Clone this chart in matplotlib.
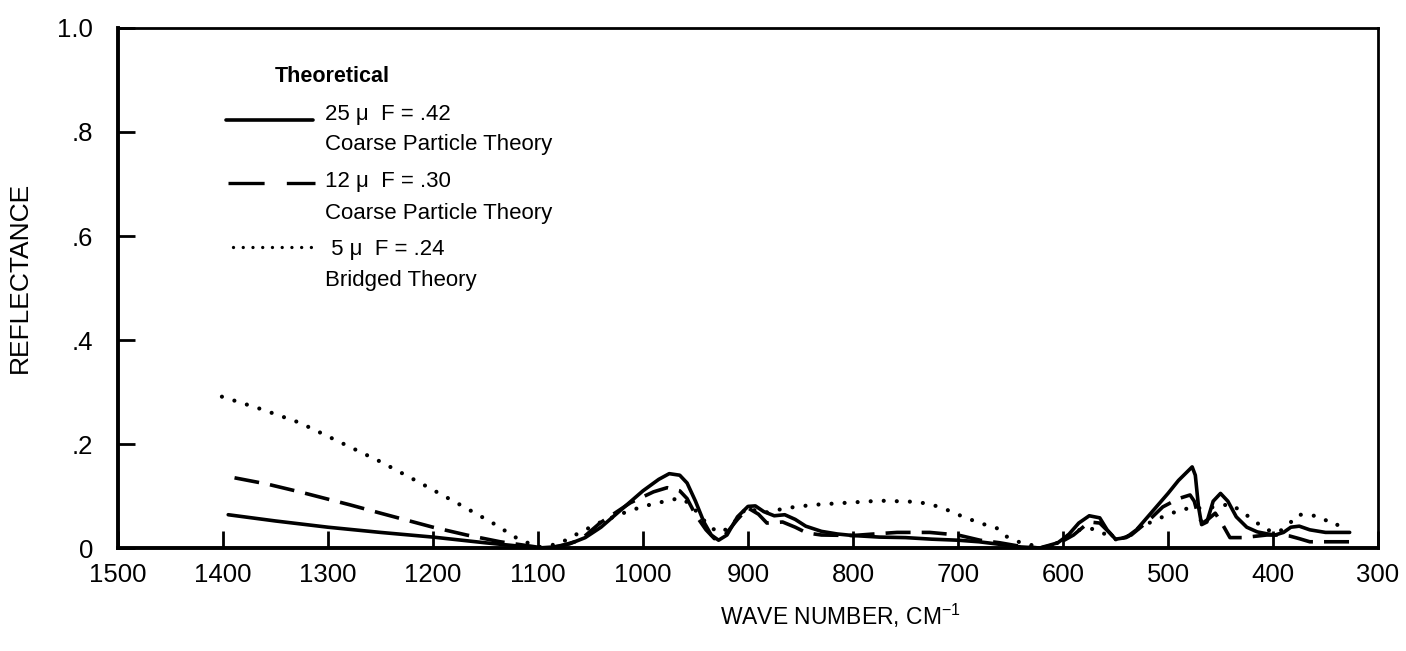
import matplotlib
matplotlib.use("Agg")
import matplotlib.pyplot as plt
from matplotlib.lines import Line2D

plt.rcParams['font.family'] = ['Liberation Sans', 'DejaVu Sans']
plt.rcParams['lines.scale_dashes'] = False
plt.rcParams['mathtext.fontset'] = 'custom'
plt.rcParams['mathtext.rm'] = 'Liberation Sans'

# 25 micron, F = .42, coarse particle theory
wn_25 = [1395, 1350, 1300, 1250, 1200, 1150, 1120, 1100, 1085, 1070, 1055, 1040, 1020,
         1000, 985, 975, 965, 958, 950, 942, 935, 928, 920, 910, 900, 893, 885, 875,
         865, 855, 845, 830, 815, 800, 775, 750, 725, 700, 680, 660, 640, 622, 605,
         595, 585, 575, 565, 558, 550, 540, 530, 515, 500, 490, 480, 477, 474, 471,
         468, 463, 457, 450, 443, 435, 425, 415, 405, 398, 390, 383, 375, 365, 350,
         335, 327]
r_25 = [0.064, 0.052, 0.040, 0.030, 0.021, 0.010, 0.004, 0.0, 0.002, 0.008, 0.020,
        0.040, 0.075, 0.110, 0.132, 0.143, 0.140, 0.125, 0.090, 0.050, 0.025, 0.015,
        0.025, 0.060, 0.080, 0.081, 0.070, 0.062, 0.064, 0.055, 0.042, 0.032, 0.027,
        0.024, 0.021, 0.020, 0.017, 0.015, 0.012, 0.007, 0.002, 0.0, 0.010, 0.025,
        0.048, 0.062, 0.058, 0.035, 0.017, 0.020, 0.035, 0.070, 0.105, 0.130, 0.150,
        0.156, 0.140, 0.080, 0.045, 0.050, 0.090, 0.105, 0.090, 0.060, 0.040, 0.031,
        0.027, 0.025, 0.030, 0.040, 0.042, 0.035, 0.030, 0.030, 0.030]

# 12 micron, F = .30, coarse particle theory
wn_12 = [1389, 1358, 1327, 1279, 1250, 1200, 1168, 1136, 1105, 1095, 1080, 1060, 1041,
         1012, 990, 977, 965, 958, 950, 940, 932, 922, 910, 900, 890, 882, 867, 855,
         844, 830, 800, 780, 758, 727, 700, 679, 660, 640, 622, 605, 590, 575, 565,
         555, 549, 535, 520, 505, 490, 479, 475, 471, 467, 462, 455, 448, 441, 429,
         415, 406, 395, 384, 375, 365, 350, 335, 327]
r_12 = [0.135, 0.123, 0.108, 0.083, 0.067, 0.040, 0.025, 0.012, 0.003, 0.0, 0.003,
        0.015, 0.048, 0.087, 0.108, 0.116, 0.110, 0.095, 0.064, 0.035, 0.018, 0.025,
        0.055, 0.077, 0.065, 0.048, 0.050, 0.040, 0.029, 0.025, 0.024, 0.027, 0.030,
        0.030, 0.025, 0.015, 0.010, 0.003, 0.0, 0.008, 0.025, 0.050, 0.048, 0.028,
        0.015, 0.025, 0.050, 0.079, 0.095, 0.102, 0.090, 0.060, 0.048, 0.055, 0.067,
        0.045, 0.020, 0.020, 0.023, 0.025, 0.025, 0.023, 0.018, 0.012, 0.012, 0.012,
        0.012]

# 5 micron, F = .24, bridged theory
wn_5 = [1401, 1365, 1327, 1289, 1250, 1212, 1174, 1143, 1117, 1098, 1080, 1060, 1040,
        1019, 1000, 981, 965, 955, 945, 935, 925, 915, 901, 886, 863, 838, 806, 774,
        743, 727, 710, 695, 679, 663, 653, 640, 631, 618, 605, 595, 584, 575, 565,
        555, 547, 535, 527, 505, 486, 467, 453, 441, 429, 415, 406, 395, 385, 377,
        365, 353, 343, 335, 328]
r_5 = [0.291, 0.268, 0.241, 0.204, 0.166, 0.125, 0.083, 0.048, 0.015, 0.002, 0.008,
       0.030, 0.050, 0.067, 0.080, 0.089, 0.096, 0.085, 0.060, 0.038, 0.030, 0.045,
       0.078, 0.067, 0.077, 0.083, 0.087, 0.091, 0.089, 0.085, 0.073, 0.060, 0.048,
       0.038, 0.021, 0.010, 0.006, 0.002, 0.010, 0.025, 0.035, 0.038, 0.033, 0.020,
       0.015, 0.025, 0.040, 0.060, 0.075, 0.077, 0.079, 0.085, 0.069, 0.048, 0.035,
       0.030, 0.045, 0.064, 0.064, 0.058, 0.044, 0.045, 0.050]

x_ticks = list(range(1500, 299, -100))
y_ticks = [0, 0.2, 0.4, 0.6, 0.8, 1.0]
y_tick_labels = ['0', '.2', '.4', '.6', '.8', '1.0']

solid_style = dict(color='black', lw=2.6, ls='-', solid_capstyle='round')
dash_style = dict(color='black', lw=2.6, ls=(0, (18, 8)))
dot_style = dict(color='black', lw=3.0, ls=(0, (0.01, 9.4)), dash_capstyle='round')

fig = plt.figure(figsize=(14.06, 6.51), dpi=100)
ax = fig.add_axes([0.0839, 0.1582, 0.8962, 0.7988])

ax.plot(wn_25, r_25, **solid_style)
ax.plot(wn_12, r_12, **dash_style)
ax.plot(wn_5, r_5, **dot_style)

ax.set_xlim(1500, 300)
ax.set_ylim(0, 1.0)
ax.set_xticks(x_ticks)
ax.set_xticklabels([str(v) for v in x_ticks])
ax.set_yticks(y_ticks)
ax.set_yticklabels(y_tick_labels)
ax.tick_params(axis='both', direction='in', length=12, width=2, labelsize=18.5)
ax.tick_params(axis='x', pad=11)
ax.tick_params(axis='y', pad=18)
for side in ['left', 'bottom']:
    ax.spines[side].set_linewidth(2.8)
for side in ['top', 'right']:
    ax.spines[side].set_linewidth(2.0)

ax.set_xlabel(r'WAVE NUMBER, CM$^{\mathregular{-1}}$', fontsize=16.5)
ax.xaxis.set_label_coords(0.573, -0.104)
ax.set_ylabel('REFLECTANCE', fontsize=19)
ax.yaxis.set_label_coords(-0.068, 0.52)

# hand-made key in the upper left corner
tf = ax.transAxes
ax.text(0.1246, 0.906, 'Theoretical', transform=tf, fontsize=15.5, fontweight='bold', va='center')
ax.add_line(Line2D([0.0857, 0.1548], [0.823, 0.823], transform=tf, **solid_style))
ax.add_line(Line2D([0.087, 0.156], [0.702, 0.702], transform=tf,
                   color='black', lw=2.4, ls=(0, (26, 16))))
ax.add_line(Line2D([0.0913, 0.157], [0.579, 0.579], transform=tf,
                   color='black', lw=2.4, ls=(0, (0.01, 7.0)), dash_capstyle='round'))
entries = [(0.833, '25 μ  F = .42'), (0.775, 'Coarse Particle Theory'),
           (0.704, '12 μ  F = .30'), (0.644, 'Coarse Particle Theory'),
           (0.575, ' 5 μ  F = .24'), (0.515, 'Bridged Theory')]
for y, txt in entries:
    ax.text(0.164, y, txt, transform=tf, fontsize=16, va='center')

fig.savefig('out.png', dpi=100)
